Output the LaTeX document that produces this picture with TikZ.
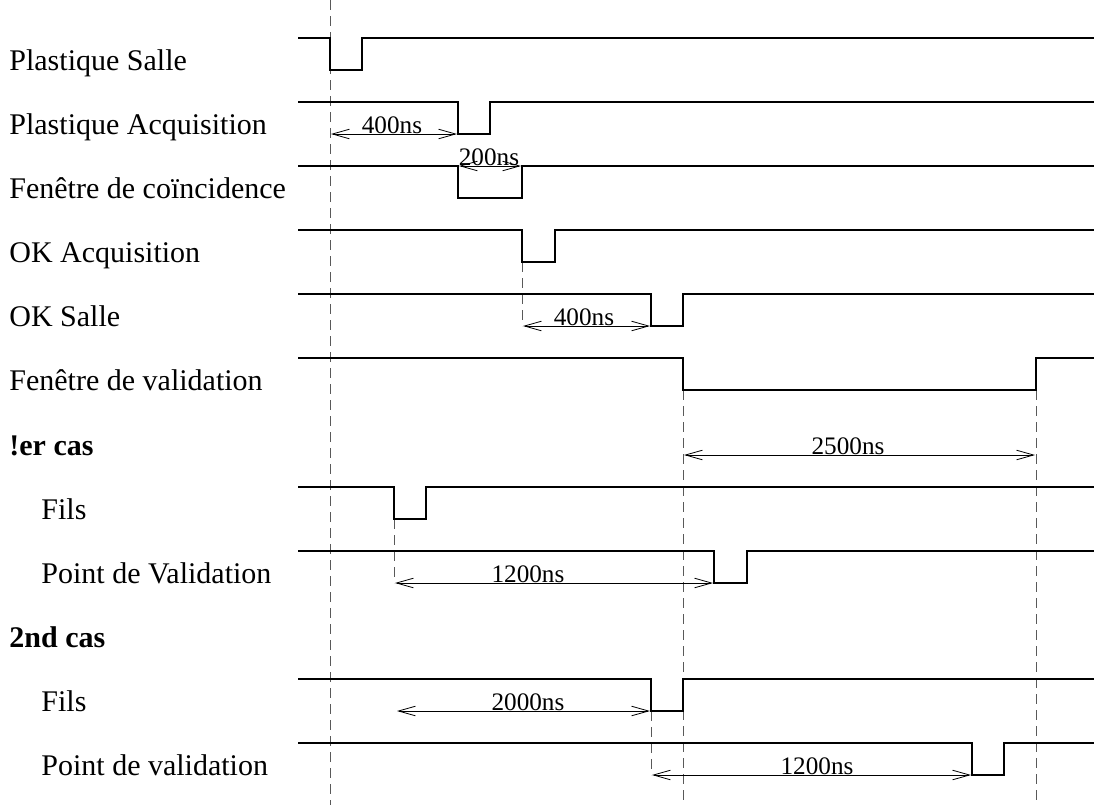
\documentclass[tikz,border=0pt]{standalone}
\usepackage{fontspec}
\setmainfont{Liberation Serif}
\usetikzlibrary{arrows.meta}
\tikzset{
  sig/.style={line width=1pt},
  guide/.style={black!65, line width=0.5pt, dash pattern=on 5pt off 3pt},
  dur/.style={{Straight Barb[length=8.5pt,width=4.8pt]}-{Straight Barb[length=8.5pt,width=4.8pt]}, line width=0.4pt},
  lbl/.style={anchor=base west, inner sep=0pt, font=\fontsize{15}{18}\selectfont},
  hdr/.style={lbl, font=\fontsize{15}{18}\selectfont\bfseries},
  dlab/.style={anchor=base, inner sep=0pt, font=\fontsize{12.6}{15}\selectfont},
}
% one signal: high level, falling edge, rising edge
\newcommand{\pulse}[3]{%
  \draw[sig] (298,#1) -- (#2,#1) -- (#2,#1+32) -- (#3,#1+32) -- (#3,#1) -- (1094,#1);}

\begin{document}
\begin{tikzpicture}[x=0.5pt, y=-0.5pt]
  \useasboundingbox (0,0) rectangle (1094,805);
  % reference instants
  \draw[guide] (330,0) -- (330,805);
  \draw[guide] (522,262) -- (522,326);
  \draw[guide] (683,390) -- (683,805);
  \draw[guide] (1036,390) -- (1036,805);
  \draw[guide] (394,519) -- (394,583);
  \draw[guide] (651,711) -- (651,775);
  % signal names
  \node[lbl] (ps)  at (9,70)  {Plastique Salle};
  \node[lbl] (pa)  at (9,134) {Plastique Acquisition};
  \node[lbl] (fc)  at (9,198) {Fenêtre de coïncidence};
  \node[lbl] (oka) at (9,262) {OK Acquisition};
  \node[lbl] (oks) at (9,326) {OK Salle};
  \node[lbl] (fv)  at (9,390) {Fenêtre de validation};
  \node[hdr] (c1)  at (9,455) {!er cas};
  \node[lbl] (f1)  at (41,519) {Fils};
  \node[lbl] (pv1) at (41,583) {Point de Validation};
  \node[hdr] (c2)  at (9,647) {2nd cas};
  \node[lbl] (f2)  at (41,711) {Fils};
  \node[lbl] (pv2) at (41,775) {Point de validation};
  % waveforms
  \pulse{38}{330}{362}
  \pulse{102}{458}{490}
  \pulse{166}{458}{522}
  \pulse{230}{522}{555}
  \pulse{294}{651}{683}
  \pulse{358}{683}{1036}
  \pulse{487}{394}{426}
  \pulse{551}{714}{747}
  \pulse{679}{651}{683}
  \pulse{743}{972}{1004}
  % delays
  \coordinate (d1a) at (331,134);  \coordinate (d1b) at (457,134);
  \coordinate (d2a) at (459,166);  \coordinate (d2b) at (521,166);
  \coordinate (d3a) at (523,326);  \coordinate (d3b) at (650,326);
  \coordinate (d4a) at (684,455);  \coordinate (d4b) at (1035,455);
  \coordinate (d5a) at (395,583);  \coordinate (d5b) at (713,583);
  \coordinate (d6a) at (397,711);  \coordinate (d6b) at (650,711);
  \coordinate (d7a) at (652,775);  \coordinate (d7b) at (971,775);
  \draw[dur] (d1a) -- (d1b);
  \draw[dur] (d2a) -- (d2b);
  \draw[dur] (d3a) -- (d3b);
  \draw[dur] (d4a) -- (d4b);
  \draw[dur] (d5a) -- (d5b);
  \draw[dur] (d6a) -- (d6b);
  \draw[dur] (d7a) -- (d7b);
  \node[dlab] (l1) at (392,133) {400ns};
  \node[dlab] (l2) at (489,165) {200ns};
  \node[dlab] (l3) at (584,325) {400ns};
  \node[dlab] (l4) at (848,454) {2500ns};
  \node[dlab] (l5) at (528,582) {1200ns};
  \node[dlab] (l6) at (528,710) {2000ns};
  \node[dlab] (l7) at (817,774) {1200ns};
\end{tikzpicture}
\end{document}
